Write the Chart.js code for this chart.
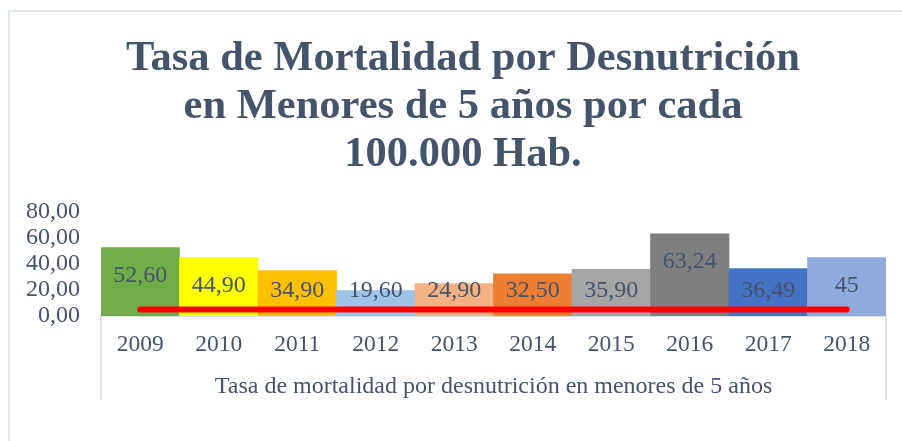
<!DOCTYPE html>
<html>
<head>
<meta charset="utf-8">
<script src="https://cdn.jsdelivr.net/npm/chart.js@4/dist/chart.umd.min.js"></script>
<style>
    body { margin: 0; background: #fff; overflow: hidden; width: 902px; height: 441px; }
    .frame {
        position: absolute;
        left: 8px;
        top: 10px;
        width: 1000px;
        height: 1000px;
        border: 2px solid #e2e7ee;
    }
    /* the chart is a bit wider than the window, its right edge is cut off */
    .wrap {
        position: absolute;
        left: 0;
        top: 0;
        width: 926px;
        height: 441px;
    }
</style>
</head>
<body>
<div class="frame"></div>
<div class="wrap"><canvas id="chart"></canvas></div>
<script>
// ===== Data =====
const years = ['2009', '2010', '2011', '2012', '2013', '2014', '2015', '2016', '2017', '2018'];
const rates = [52.60, 44.90, 34.90, 19.60, 24.90, 32.50, 35.90, 63.24, 36.49, 45];
const rateLabels = ['52,60', '44,90', '34,90', '19,60', '24,90', '32,50', '35,90', '63,24', '36,49', '45'];
const redLine = [5, 5, 5, 5, 5, 5, 5, 5, 5, 5];
const yMin = 0;
const yMax = 80;
const yStep = 20;

const barColors = ['#70ad47', '#ffff00', '#ffc000', '#9dc3e6', '#f4b183',
                   '#ed7d31', '#a5a5a5', '#7f7f7f', '#4472c4', '#8faadc'];
const textColor = '#44546a';
const serif = "'Liberation Serif', 'Times New Roman', serif";

// ===== Plugins =====
// value labels inside the bars
const barLabels = {
    id: 'barLabels',
    afterDatasetsDraw(chart) {
        const ctx = chart.ctx;
        const meta = chart.getDatasetMeta(1);
        const base = chart.scales.y.getPixelForValue(0);
        ctx.save();
        ctx.font = '24px ' + serif;
        ctx.fillStyle = textColor;
        ctx.textAlign = 'center';
        ctx.textBaseline = 'middle';
        meta.data.forEach((bar, i) => {
            const y = Math.min(bar.y + 28, base - 25);
            ctx.fillText(rateLabels[i], bar.x, y);
        });
        ctx.restore();
    }
};

// box lines around the category axis
const axisBox = {
    id: 'axisBox',
    afterDraw(chart) {
        const ctx = chart.ctx;
        const area = chart.chartArea;
        const xs = chart.scales.x;
        ctx.save();
        ctx.strokeStyle = '#dde2ea';
        ctx.lineWidth = 2;
        ctx.beginPath();
        ctx.moveTo(area.left, area.bottom);
        ctx.lineTo(area.left, xs.bottom);
        ctx.moveTo(area.right, area.bottom);
        ctx.lineTo(area.right, xs.bottom);
        ctx.stroke();
        ctx.restore();
    }
};

// ===== Chart =====
const ctx = document.getElementById('chart').getContext('2d');
new Chart(ctx, {
    type: 'bar',
    data: {
        labels: years,
        datasets: [{
            type: 'line',
            data: redLine,
            borderColor: '#ff0000',
            borderWidth: 6,
            borderCapStyle: 'round',
            pointRadius: 0,
            fill: false,
            order: 0
        }, {
            label: 'Tasa de mortalidad por desnutrición en menores de 5 años',
            data: rates,
            backgroundColor: barColors,
            borderWidth: 0,
            categoryPercentage: 1,
            barPercentage: 1,
            order: 1
        }]
    },
    options: {
        responsive: true,
        maintainAspectRatio: false,
        animation: false,
        layout: {
            padding: { left: 0, right: 0, top: 0, bottom: 41 }
        },
        plugins: {
            legend: { display: false },
            tooltip: { enabled: false },
            title: {
                display: true,
                text: ['Tasa de Mortalidad por Desnutrición', 'en Menores de 5 años por cada', '100.000 Hab.'],
                color: textColor,
                font: { family: serif, size: 42.5, weight: 'bold', lineHeight: 1.13 },
                padding: { top: 35, bottom: 33 }
            }
        },
        scales: {
            x: {
                grid: { display: false, drawTicks: false },
                border: { display: true, color: '#dde2ea', width: 2 },
                ticks: {
                    color: textColor,
                    font: { family: serif, size: 23.5, lineHeight: 1.175 },
                    padding: 15
                },
                title: {
                    display: true,
                    text: 'Tasa de mortalidad por desnutrición en menores de 5 años',
                    color: textColor,
                    font: { family: serif, size: 24, lineHeight: 1.1 },
                    padding: { top: 0, bottom: 0 }
                }
            },
            y: {
                min: yMin,
                max: yMax,
                afterFit: axis => {
                    axis.width = 101;
                },
                grid: { display: false, drawTicks: false },
                border: { display: false },
                ticks: {
                    stepSize: yStep,
                    autoSkip: false,
                    color: textColor,
                    font: { family: serif, size: 24 },
                    padding: 21,
                    callback: value => value.toFixed(2).replace('.', ',')
                }
            },
            // empty space right of the plot
            yRight: {
                position: 'right',
                grid: { display: false, drawTicks: false },
                border: { display: false },
                ticks: { display: false },
                afterFit: axis => {
                    axis.width = 40;
                }
            }
        }
    },
    plugins: [barLabels, axisBox]
});
</script>
</body>
</html>
